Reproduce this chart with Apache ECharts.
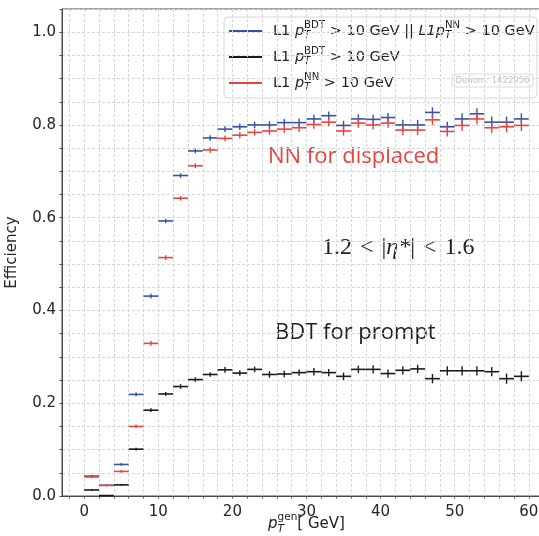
<!DOCTYPE html>
<html>
<head>
<meta charset="utf-8">
<script src="https://cdn.jsdelivr.net/npm/echarts@6.0.0/dist/echarts.min.js"></script>
<style>
html, body { margin: 0; padding: 0; background: #fff; }
#chart { width: 539px; height: 536px; }
</style>
</head>
<body>
<div id="chart"></div>
<script>
// pT bins of 2 GeV, centres
var binCenters = [1, 3, 5, 7, 9, 11, 13, 15, 17, 19, 21, 23, 25, 27, 29,
  31, 33, 35, 37, 39, 41, 43, 45, 47, 49, 51, 53, 55, 57, 59]

// L1 BDT || NN
var orEff = [0.043, 0.023, 0.068, 0.219, 0.431, 0.593, 0.691, 0.744, 0.772, 0.791,
  0.796, 0.800, 0.800, 0.805, 0.805, 0.813, 0.820, 0.799, 0.813, 0.812,
  0.816, 0.800, 0.800, 0.827, 0.796, 0.813, 0.824, 0.806, 0.806, 0.813]
var orErr = [0.003, 0.002, 0.003, 0.004, 0.005, 0.005, 0.005, 0.005, 0.006, 0.006,
  0.007, 0.007, 0.008, 0.008, 0.009, 0.009, 0.009, 0.010, 0.010, 0.010,
  0.010, 0.011, 0.011, 0.011, 0.011, 0.012, 0.012, 0.012, 0.012, 0.012]

// L1 BDT only
var bdtEff = [0.013, 0.001, 0.024, 0.101, 0.185, 0.220, 0.236, 0.251, 0.262, 0.272,
  0.265, 0.273, 0.262, 0.263, 0.266, 0.268, 0.266, 0.258, 0.273, 0.273,
  0.264, 0.271, 0.274, 0.253, 0.270, 0.270, 0.270, 0.268, 0.253, 0.258]
var bdtErr = [0.002, 0.001, 0.002, 0.003, 0.004, 0.004, 0.005, 0.005, 0.005, 0.006,
  0.006, 0.006, 0.007, 0.007, 0.007, 0.008, 0.008, 0.008, 0.008, 0.009,
  0.009, 0.009, 0.009, 0.010, 0.010, 0.010, 0.010, 0.010, 0.011, 0.011]

// L1 NN only
var nnEff = [0.041, 0.023, 0.053, 0.150, 0.329, 0.514, 0.642, 0.712, 0.746, 0.771,
  0.778, 0.784, 0.787, 0.791, 0.794, 0.801, 0.806, 0.787, 0.804, 0.800,
  0.804, 0.789, 0.789, 0.811, 0.786, 0.799, 0.813, 0.794, 0.796, 0.799]
var nnErr = orErr

var xTickLabels = [0, 10, 20, 30, 40, 50, 60]
var yTickLabels = [0, 0.2, 0.4, 0.6, 0.8, 1.0]

var BLUE = '#3553a6'
var RED = '#e5453d'
var BLACK = '#1a1a1a'
var FONT = '"DejaVu Sans"'

// minor grid every 2 GeV / 0.05
var xGrid = []
for (var g = -2; g <= 62; g += 2) xGrid.push(g)
var yGrid = []
for (var k = 0; k <= 21; k++) yGrid.push(Math.round(k * 5) / 100)

function zipData (eff, err) {
  return binCenters.map(function (c, i) { return [c, eff[i], err[i]] })
}

function errorBars (color) {
  return function (params, api) {
    var x = api.value(0)
    var y = api.value(1)
    var e = api.value(2)
    var l = api.coord([x - 1, y])
    var r = api.coord([x + 1, y])
    var t = api.coord([x, y + e])
    var b = api.coord([x, y - e])
    return {
      type: 'group',
      children: [
        { type: 'line', shape: { x1: l[0], y1: l[1], x2: r[0], y2: r[1] }, style: { stroke: color, lineWidth: 1.6 } },
        { type: 'line', shape: { x1: t[0], y1: t[1], x2: b[0], y2: b[1] }, style: { stroke: color, lineWidth: 1.4 } }
      ]
    }
  }
}

// crude mathtext: p_T^{...}
var measureCtx = document.createElement('canvas').getContext('2d')
function textWidth (str, font) {
  measureCtx.font = font
  return measureCtx.measureText(str).width
}
function mathText (x, y, parts, size, color) {
  var els = []
  var cx = x
  parts.forEach(function (p) {
    if (p.sup !== undefined) {
      var s = size * 0.7
      var fSup = s + 'px ' + FONT
      var fSub = 'italic ' + s + 'px ' + FONT
      els.push({ type: 'text', x: cx, y: y - size * 0.42, style: { text: p.sup, font: fSup, fill: color, verticalAlign: 'middle' } })
      els.push({ type: 'text', x: cx, y: y + size * 0.32, style: { text: p.sub, font: fSub, fill: color, verticalAlign: 'middle' } })
      cx += Math.max(textWidth(p.sup, fSup), textWidth(p.sub, fSub))
    } else {
      var f = (p.it ? 'italic ' : '') + size + 'px ' + FONT
      els.push({ type: 'text', x: cx, y: y, style: { text: p.t, font: f, fill: color, verticalAlign: 'middle' } })
      cx += textWidth(p.t, f)
    }
  })
  return els
}

var LS = 14.5
var graphics = [
  { type: 'rect', shape: { x: 224, y: 17, width: 313, height: 81, r: 4 }, style: { fill: 'rgba(255,255,255,0.85)', stroke: '#d8d8d8', lineWidth: 1 } },
  { type: 'line', shape: { x1: 229, y1: 31, x2: 262, y2: 31 }, style: { stroke: BLUE, lineWidth: 2 } },
  { type: 'line', shape: { x1: 229, y1: 57, x2: 262, y2: 57 }, style: { stroke: BLACK, lineWidth: 2 } },
  { type: 'line', shape: { x1: 229, y1: 83, x2: 262, y2: 83 }, style: { stroke: RED, lineWidth: 2 } },
  { type: 'rect', shape: { x: 452, y: 74, width: 81, height: 13, r: 2 }, style: { fill: '#fff', stroke: '#dcdcdc', lineWidth: 1 } },
  { type: 'text', x: 492.5, y: 80.5, style: { text: 'Denom: 1422956', font: '8.5px ' + FONT, fill: '#c4c4c4', align: 'center', verticalAlign: 'middle' } },
  { type: 'text', x: 268, y: 157, style: { text: 'NN for displaced', font: '22px "Open Sans"', fill: RED, verticalAlign: 'middle' } },
  { type: 'text', x: 275, y: 333, style: { text: 'BDT for prompt', font: '22px "Open Sans"', fill: '#222', verticalAlign: 'middle' } },
  {
    type: 'text', x: 322, y: 248,
    style: {
      text: '{n|1.2\u2004<\u2004|}{i|η*}{n||\u2004<\u20041.6}',
      verticalAlign: 'middle',
      rich: {
        n: { font: '24px "Liberation Serif"', fill: '#222' },
        i: { font: 'italic 24px "Liberation Serif"', fill: '#222' }
      }
    }
  }
]
graphics = graphics
  .concat(mathText(273, 31, [{ t: 'L1 ' }, { t: 'p', it: true }, { sup: 'BDT', sub: 'T' }, { t: ' > 10 GeV || ' },
    { t: 'L1p', it: true }, { sup: 'NN', sub: 'T' }, { t: ' > 10 GeV' }], LS, '#222'))
  .concat(mathText(273, 57, [{ t: 'L1 ' }, { t: 'p', it: true }, { sup: 'BDT', sub: 'T' }, { t: ' > 10 GeV' }], LS, '#222'))
  .concat(mathText(273, 83, [{ t: 'L1 ' }, { t: 'p', it: true }, { sup: 'NN', sub: 'T' }, { t: ' > 10 GeV' }], LS, '#222'))
  .concat(mathText(268, 524, [{ t: 'p', it: true }, { sup: 'gen', sub: 'T' }, { t: '[ GeV]' }], 15, '#222'))

var chart = echarts.init(document.getElementById('chart'), null, { renderer: 'canvas' })
chart.setOption({
  animation: false,
  backgroundColor: '#fff',
  grid: {
    left: 62, right: -12, top: 9, bottom: 40,
    containLabel: false,
    outerBoundsMode: 'none',
    show: true, borderColor: '#4a4a4a', borderWidth: 1, backgroundColor: 'transparent'
  },
  xAxis: {
    type: 'value', min: -3, max: 63,
    axisLine: { show: true, onZero: false, lineStyle: { color: '#4a4a4a', width: 1 } },
    axisTick: { show: true, customValues: xGrid, length: 2.5, lineStyle: { color: '#4a4a4a' } },
    axisLabel: { customValues: xTickLabels, fontSize: 15, fontFamily: 'DejaVu Sans', color: '#262626', margin: 9 },
    splitLine: { show: true, lineStyle: { color: '#d6d6d6', type: [3, 2], width: 1 } }
  },
  yAxis: {
    type: 'value', min: 0, max: 1.05,
    name: 'Efficiency', nameLocation: 'middle', nameGap: 42,
    nameTextStyle: { fontSize: 15, fontFamily: 'DejaVu Sans', color: '#262626' },
    axisLine: { show: true, onZero: false, lineStyle: { color: '#4a4a4a', width: 1 } },
    axisTick: { show: true, customValues: yGrid, length: 2.5, lineStyle: { color: '#4a4a4a' } },
    axisLabel: {
      customValues: yTickLabels, fontSize: 15, fontFamily: 'DejaVu Sans', color: '#262626', margin: 6,
      formatter: function (v) { return v.toFixed(1) }
    },
    splitLine: { show: true, lineStyle: { color: '#d6d6d6', type: [3, 2], width: 1 } }
  },
  graphic: graphics,
  series: [
    { type: 'custom', name: 'or', renderItem: errorBars(BLUE), data: zipData(orEff, orErr), encode: { x: 0, y: 1 } },
    { type: 'custom', name: 'bdt', renderItem: errorBars(BLACK), data: zipData(bdtEff, bdtErr), encode: { x: 0, y: 1 } },
    { type: 'custom', name: 'nn', renderItem: errorBars(RED), data: zipData(nnEff, nnErr), encode: { x: 0, y: 1 } }
  ]
})
</script>
</body>
</html>
